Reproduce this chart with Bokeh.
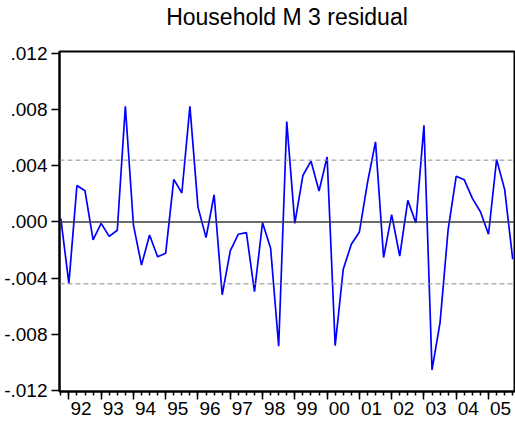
from bokeh.plotting import figure
from bokeh.models import (Range1d, LinearAxis, FixedTicker, Span, ColumnDataSource,
                          CustomLabelingPolicy)
from bokeh.embed import file_html
from bokeh.resources import INLINE

# ---- data ----
title_text = "Household M 3 residual"
start_year = 1991
start_quarter = 4
# quarterly residuals, 1991Q4 .. 2005Q4
residual = [
    0.00026, -0.00437, 0.00260, 0.00222, -0.00128, -0.00010, -0.00102, -0.00059,
    0.00823, -0.00020, -0.00307, -0.00092, -0.00248, -0.00222, 0.00303, 0.00206,
    0.00823, 0.00106, -0.00111, 0.00194, -0.00518, -0.00206, -0.00087, -0.00076,
    -0.00496, -0.00005, -0.00187, -0.00884, 0.00714, -0.00010, 0.00331, 0.00433,
    0.00220, 0.00463, -0.00880, -0.00336, -0.00158, -0.00071, 0.00279, 0.00570,
    -0.00253, 0.00052, -0.00243, 0.00154, -0.00007, 0.00688, -0.01052, -0.00714,
    -0.00052, 0.00326, 0.00300, 0.00168, 0.00073, -0.00087, 0.00444, 0.00232,
    -0.00265,
]
year_labels = ["92", "93", "94", "95", "96", "97", "98", "99",
               "00", "01", "02", "03", "04", "05"]
y_tick_values = [-0.012, -0.008, -0.004, 0.0, 0.004, 0.008, 0.012]
y_tick_labels = ["-.012", "-.008", "-.004", ".000", ".004", ".008", ".012"]
band = 0.0044   # dashed reference lines at +/- band

# ---- derived positions (observation index) ----
n = len(residual)
idx = list(range(n))
first_q1 = (4 - start_quarter + 1) % 4  # index of first Q1
q1_idx = [i for i in idx if (i - first_q1) % 4 == 0]
label_pos = [q + 1.5 for q in q1_idx[:len(year_labels)]]

FONT = "Liberation Sans"

p = figure(width=515, height=424, output_backend="svg", toolbar_location=None,
           title=None,
           x_range=Range1d(-0.16, 56.22), y_range=Range1d(-0.01206, 0.01213),
           x_axis_location=None, y_axis_location=None,
           min_border_left=59, min_border_right=1, min_border_top=50, min_border_bottom=33)
p.background_fill_color = "white"
p.border_fill_color = "white"
p.outline_line_color = "black"
p.outline_line_width = 2
p.xgrid.visible = False
p.ygrid.visible = False

# title, drawn as the label of a tick-less axis above the frame
title_axis = LinearAxis(ticker=FixedTicker(ticks=[]), major_tick_out=0, major_tick_in=0,
                        minor_tick_out=0, minor_tick_in=0, major_label_standoff=0,
                        axis_line_color=None, major_tick_line_color=None,
                        minor_tick_line_color=None,
                        axis_label=title_text, axis_label_standoff=22,
                        axis_label_text_font=FONT, axis_label_text_font_size="23px",
                        axis_label_text_font_style="normal", axis_label_text_color="black")
p.add_layout(title_axis, "above")

yaxis = LinearAxis(ticker=FixedTicker(ticks=y_tick_values),
                   major_label_overrides=dict(zip(y_tick_values, y_tick_labels)),
                   major_tick_out=8, major_tick_in=0, minor_tick_line_color=None,
                   major_label_standoff=4, major_label_text_font=FONT,
                   major_label_text_font_size="19px", major_label_text_color="black",
                   axis_line_width=2, axis_line_color="black",
                   major_tick_line_width=1.5, major_tick_line_color="black")
p.add_layout(yaxis, "left")

no_labels = CustomLabelingPolicy(code="""
    const all = Array.from(indices)
    for (const i of all) indices.unset(i)
    return indices
""")
xticks_axis = LinearAxis(ticker=FixedTicker(ticks=q1_idx, minor_ticks=idx),
                         major_tick_out=8, major_tick_in=0, minor_tick_out=4, minor_tick_in=0,
                         major_tick_line_width=1.5, minor_tick_line_width=1.5,
                         major_label_text_font_size="0px", major_label_standoff=0,
                         major_label_policy=no_labels,
                         axis_line_width=2, axis_line_color="black")
p.add_layout(xticks_axis, "below")

xlabels_axis = LinearAxis(ticker=FixedTicker(ticks=label_pos),
                          major_label_overrides=dict(zip(label_pos, year_labels)),
                          major_tick_out=0, major_tick_in=0, major_tick_line_color=None,
                          minor_tick_line_color=None, axis_line_color=None,
                          major_label_standoff=2, major_label_text_font=FONT,
                          major_label_text_font_size="19px", major_label_text_color="black")
p.add_layout(xlabels_axis, "below")

p.add_layout(Span(location=0, dimension="width", line_color="#3a3a3a", line_width=1.3))
for loc in (band, -band):
    p.add_layout(Span(location=loc, dimension="width", line_color="#8c8c8c",
                      line_width=1, line_dash="5 3"))

src = ColumnDataSource(dict(x=idx, y=residual))
p.line("x", "y", source=src, line_color="#0000ff", line_width=1.7)

open("out.html", "w").write(file_html(p, INLINE))
